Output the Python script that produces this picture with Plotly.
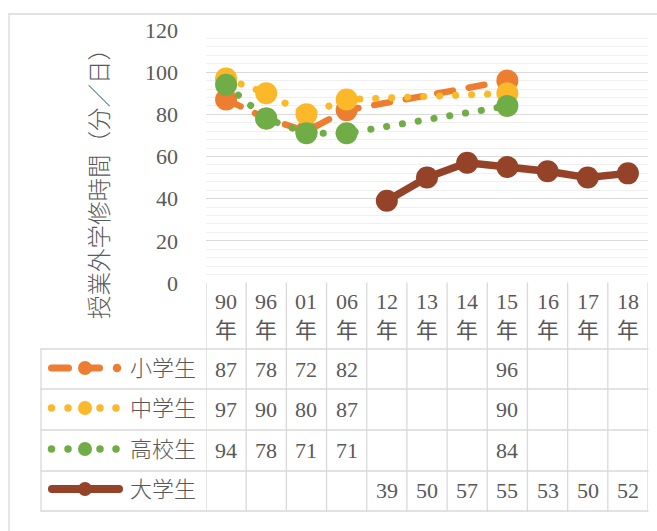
import plotly.graph_objects as go

# ---- data -------------------------------------------------------------
years = ["90", "96", "01", "06", "12", "13", "14", "15", "16", "17", "18"]
elementary = [87, 78, 72, 82, None, None, None, 96, None, None, None]
junior_high = [97, 90, 80, 87, None, None, None, 90, None, None, None]
high_school = [94, 78, 71, 71, None, None, None, 84, None, None, None]
university = [None, None, None, None, 39, 50, 57, 55, 53, 50, 52]

series_names = ["小学生", "中学生", "高校生", "大学生"]
y_ticks = [0, 20, 40, 60, 80, 100, 120]
y_title = "授業外学修時間（分／日）"
year_suffix = "年"

# ---- styling ----------------------------------------------------------
W, H = 657, 531
L, R, T, B = 206, 648, 30, 283          # plot area in pixels
FONT = "Liberation Serif, Noto Sans CJK JP, serif"
TXT = "#595959"
GRID = "#D9D9D9"
ORANGE, GOLD, GREEN, BROWN = "#ED7D31", "#FBB829", "#70AD47", "#944329"


def px_x(p):
    return (p - L) / (R - L)


def px_y(p):
    return (B - p) / (B - T)


fig = go.Figure()

styles = [
    (elementary, ORANGE, "16px,16px", 6.5),
    (junior_high, GOLD, "0.1px,15.9px", 7),
    (high_school, GREEN, "0.1px,15.9px", 7),
    (university, BROWN, "solid", 7.5),
]
for name, (vals, col, dash, w) in zip(series_names, styles):
    fig.add_trace(go.Scatter(
        x=years, y=vals, name=name, mode="lines+markers",
        connectgaps=True,
        line=dict(color=col, width=w, dash=dash),
        marker=dict(color=col, size=22, line=dict(width=0)),
        showlegend=False, hoverinfo="skip",
    ))

shapes = []
line_style = dict(color=GRID, width=1.3)

# outer chart frame
shapes.append(dict(type="line", xref="paper", yref="paper",
                   x0=px_x(9), x1=px_x(660), y0=px_y(14), y1=px_y(14), line=line_style))
shapes.append(dict(type="line", xref="paper", yref="paper",
                   x0=px_x(9), x1=px_x(9), y0=px_y(14), y1=px_y(540), line=line_style))

# data table grid
row_lines = [349, 389, 430, 471, 511]
for ry in row_lines:
    shapes.append(dict(type="line", xref="paper", yref="paper",
                       x0=px_x(41), x1=px_x(R), y0=px_y(ry), y1=px_y(ry), line=line_style))
shapes.append(dict(type="line", xref="paper", yref="paper",
                   x0=px_x(41), x1=px_x(41), y0=px_y(349), y1=px_y(511), line=line_style))
for i in range(len(years) + 1):
    shapes.append(dict(type="line", xref="x", yref="paper",
                       x0=i - 0.5, x1=i - 0.5, y0=px_y(B), y1=px_y(511), line=line_style))

# legend keys inside the table
row_centers = [368, 408, 449, 489]


def seg(x0, x1, y, col, w):
    return dict(type="line", xref="paper", yref="paper", x0=px_x(x0), x1=px_x(x1),
                y0=px_y(y), y1=px_y(y), line=dict(color=col, width=w))


def dot(cx, cy, d, col):
    return dict(type="circle", xref="paper", yref="paper",
                x0=px_x(cx - d / 2), x1=px_x(cx + d / 2),
                y0=px_y(cy + d / 2), y1=px_y(cy - d / 2),
                fillcolor=col, line=dict(width=0))


y0 = row_centers[0]
shapes += [seg(51.5, 68.5, y0, ORANGE, 7), seg(85, 99.5, y0, ORANGE, 7),
           dot(85, y0, 14, ORANGE), dot(117, y0, 8.5, ORANGE)]
for cy, col in ((row_centers[1], GOLD), (row_centers[2], GREEN)):
    for cx in (51.5, 68, 100, 116):
        shapes.append(dot(cx, cy, 7.5, col))
    shapes.append(dot(85, cy, 14, col))
y3 = row_centers[3]
shapes += [seg(52, 119, y3, BROWN, 8), dot(85, y3, 14, BROWN)]

annotations = []
centered = dict(showarrow=False, xanchor="center", yanchor="middle")
num_font = dict(family=FONT, size=22, color=TXT)
cjk_font = dict(family=FONT, size=22, color=TXT, weight=300)
# column headers
for i, yr in enumerate(years):
    annotations.append(dict(x=i, xref="x", y=px_y(316), yref="paper",
                            text=f"{yr}<br>{year_suffix}", font=num_font, **centered))
# table values
for vals, cy in zip([elementary, junior_high, high_school, university], row_centers):
    for i, v in enumerate(vals):
        if v is not None:
            annotations.append(dict(x=i, xref="x", y=px_y(cy + 1), yref="paper",
                                    text=str(v), font=num_font, **centered))
# series labels
for name, cy in zip(series_names, row_centers):
    annotations.append(dict(x=px_x(162.5), xref="paper", y=px_y(cy), yref="paper",
                            text=name, font=cjk_font, **centered))
# y axis title
annotations.append(dict(x=px_x(100), xref="paper", y=px_y(178), yref="paper",
                        text=y_title, textangle=-90,
                        font=dict(family=FONT, size=23.5, color=TXT, weight=300),
                        **centered))

fig.update_layout(
    width=W, height=H,
    margin=dict(l=L, r=W - R, t=T, b=H - B, pad=0),
    paper_bgcolor="white", plot_bgcolor="white",
    xaxis=dict(type="category", categoryorder="array", categoryarray=years,
               range=[-0.5, len(years) - 0.5], showgrid=False, zeroline=False,
               showline=False, showticklabels=False, fixedrange=True),
    yaxis=dict(range=[0, 120], tickvals=y_ticks, showgrid=True,
               gridcolor=GRID, gridwidth=1.3, zeroline=False, showline=False,
               ticks="", ticklabelstandoff=27,
               tickfont=dict(family=FONT, size=22, color=TXT),
               minor=dict(dtick=4, showgrid=True, gridcolor="#F0F0F0", gridwidth=1.3),
               fixedrange=True),
    shapes=shapes, annotations=annotations,
)

round_caps = (
    "var s=document.createElement('style');"
    "s.textContent='.scatterlayer .js-line,.shapelayer path"
    "{stroke-linecap:round;stroke-linejoin:round}';"
    "document.head.appendChild(s);"
)
fig.write_html("out.html", post_script=round_caps, config={"displayModeBar": False})
